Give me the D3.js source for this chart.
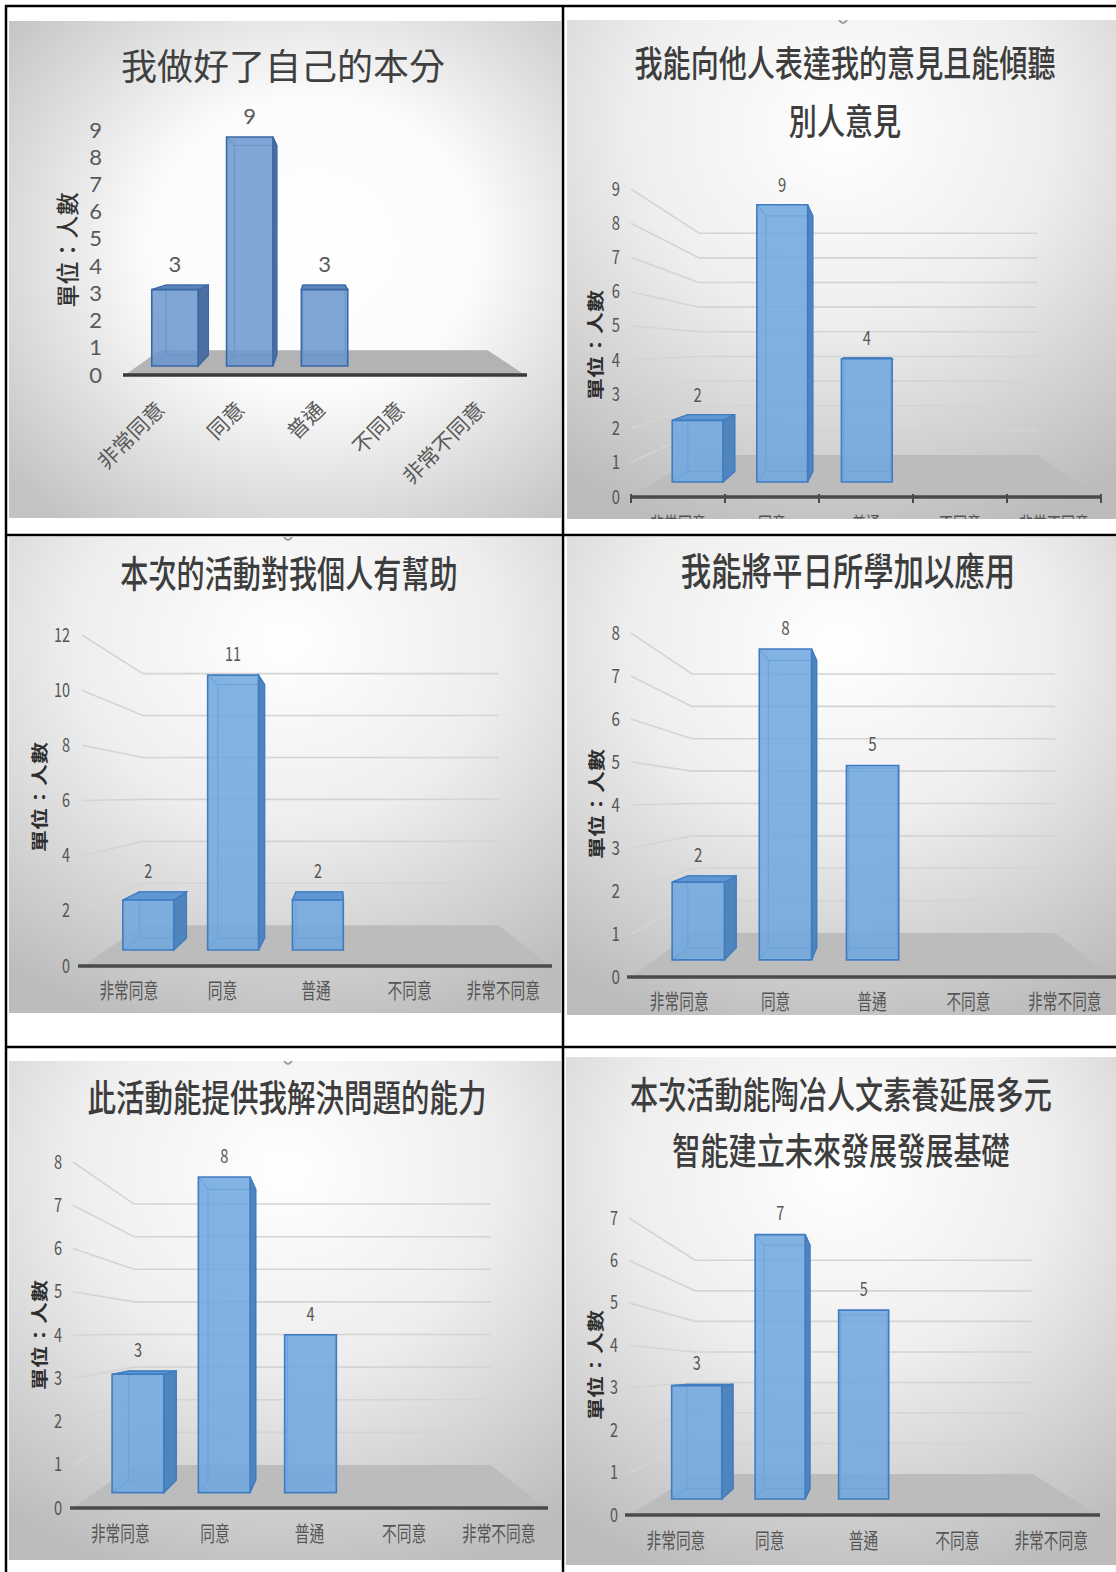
<!DOCTYPE html>
<html><head><meta charset="utf-8">
<script src="https://cdn.jsdelivr.net/npm/d3@7"></script>
<style>
body{margin:0;background:#fff}
svg{display:block}
text{font-family:"Noto Sans CJK TC","Noto Sans CJK SC","Noto Sans",sans-serif}
</style>
</head><body>
<svg id="c" width="1116" height="1572"></svg>
<script>
// ---------------- data ----------------
const categories = ["非常同意","同意","普通","不同意","非常不同意"];
const yAxisTitle = "單位：人數";

const title1 = ["我做好了自己的本分"];
const title2 = ["我能向他人表達我的意見且能傾聽","別人意見"];
const title3 = ["本次的活動對我個人有幫助"];
const title4 = ["我能將平日所學加以應用"];
const title5 = ["此活動能提供我解決問題的能力"];
const title6 = ["本次活動能陶冶人文素養延展多元","智能建立未來發展發展基礎"];

const values1 = [3,9,3,0,0];
const values2 = [2,9,4,0,0];
const values3 = [2,11,2,0,0];
const values4 = [2,8,5,0,0];
const values5 = [3,8,4,0,0];
const values6 = [3,7,5,0,0];

const ticks1 = [0,1,2,3,4,5,6,7,8,9];
const ticks2 = [0,1,2,3,4,5,6,7,8,9];
const ticks3 = [0,2,4,6,8,10,12];
const ticks4 = [0,1,2,3,4,5,6,7,8];
const ticks5 = [0,1,2,3,4,5,6,7,8];
const ticks6 = [0,1,2,3,4,5,6,7];

// ---------------- layout (positions / styles only) ----------------
const layout = [
 {bg:[9,21,552,497], grad:"bgA", titleX:283, titleY:[67], titleSize:36, titleWeight:400, sx:1,
  x0:125,x1:525,y0:375,yTop:130, vx:318,vy:237, sb:.82,s1:.935,s2:.855, barW:.62,
  tickX:102, tickSize:22, tickFont:"Lato", yT:[66,250], yTSize:23, yTWeight:500,
  catY:411, catRot:true, catSize:21, lblSize:22, lblFont:"Lato", lblGap:21, grid:false, axisTicks:false, pal:"A",
  axisX:[123,527], mark:null},
 {bg:[567,20,549,499], grad:"bgB", titleX:845, titleY:[64,122], titleSize:36, titleWeight:500, sx:.78,
  x0:631,x1:1101,y0:497,yTop:189, vx:874,vy:347, sb:.72,s1:.9,s2:.83, barW:.6,
  tickX:620, tickSize:19, tickFont:null, yT:[595,345], yTSize:22, yTWeight:700,
  catY:525, catRot:false, catSize:20, lblSize:19, lblFont:null, lblGap:20, grid:true, axisTicks:true, pal:"B",
  axisX:[631,1101], mark:[843,21]},
 {bg:[9,537,552,476], grad:"bgB", titleX:289, titleY:[575], titleSize:37, titleWeight:500, sx:.76,
  x0:82,x1:550,y0:966,yTop:635, vx:336,vy:796, sb:.76,s1:.906,s2:.835, barW:.6,
  tickX:70, tickSize:19, tickFont:null, yT:[39,797], yTSize:22, yTWeight:700,
  catY:990, catRot:false, catSize:21, lblSize:19, lblFont:null, lblGap:21, grid:true, axisTicks:false, pal:"B",
  axisX:[78,552], mark:[288,538]},
 {bg:[567,537,549,478], grad:"bgB", titleX:848, titleY:[571], titleSize:38, titleWeight:500, sx:.8,
  x0:631,x1:1113,y0:977,yTop:633, vx:878,vy:799, sb:.753,s1:.904,s2:.835, barW:.6,
  tickX:620, tickSize:19, tickFont:null, yT:[595,804], yTSize:22, yTWeight:700,
  catY:1001, catRot:false, catSize:21, lblSize:19, lblFont:null, lblGap:21, grid:true, axisTicks:false, pal:"B",
  axisX:[627,1116], mark:null},
 {bg:[9,1061,552,499], grad:"bgB", titleX:287, titleY:[1099], titleSize:37, titleWeight:500, sx:.77,
  x0:73,x1:546,y0:1508,yTop:1162, vx:321,vy:1333, sb:.754,s1:.912,s2:.84, barW:.6,
  tickX:62, tickSize:19, tickFont:null, yT:[39,1335], yTSize:22, yTWeight:700,
  catY:1533, catRot:false, catSize:21, lblSize:19, lblFont:null, lblGap:21, grid:true, axisTicks:false, pal:"B",
  axisX:[70,548], mark:[288,1062]},
 {bg:[566,1057,550,508], grad:"bgB", titleX:841, titleY:[1096,1152], titleSize:37, titleWeight:500, sx:.76,
  x0:629,x1:1098,y0:1515,yTop:1218, vx:865,vy:1369, sb:.72,s1:.89,s2:.82, barW:.6,
  tickX:618, tickSize:19, tickFont:null, yT:[595,1365], yTSize:22, yTWeight:700,
  catY:1540, catRot:false, catSize:21, lblSize:19, lblFont:null, lblGap:21, grid:true, axisTicks:false, pal:"B",
  axisX:[625,1100], mark:null}
];

const palettes = {
  A:{front:"#6b97cf", side:"#4c6f9f", top:"#5a85bd", stroke:"#3b67a6", edge:"#3f6eae", floor:"#b3b3b3", axis:"#3a3a3a",
     text:"#595959", title:"#404040", ytitle:"#333333"},
  B:{front:"#6fa7de", side:"#4f84bd", top:"#5e97d2", stroke:"#3f7cc2", edge:"#4580c4", floor:"#bcbcbc", axis:"#4a4a4a",
     text:"#555555", title:"#3d3d3d", ytitle:"#2e2e2e"}
};

const charts = [
  {title:title1, values:values1, ticks:ticks1},
  {title:title2, values:values2, ticks:ticks2},
  {title:title3, values:values3, ticks:ticks3},
  {title:title4, values:values4, ticks:ticks4},
  {title:title5, values:values5, ticks:ticks5},
  {title:title6, values:values6, ticks:ticks6}
];

// ---------------- drawing ----------------
const svg = d3.select("#c");
const defs = svg.append("defs");

function addRadial(id, cx, cy, r, stops){
  const gr = defs.append("radialGradient").attr("id",id).attr("cx",cx).attr("cy",cy).attr("r",r);
  stops.forEach(([o,c])=>gr.append("stop").attr("offset",o).attr("stop-color",c));
}
addRadial("bgA","55%","45%","72%",[[0,"#ffffff"],[0.42,"#fbfbfb"],[1,"#c3c3c3"]]);
addRadial("bgB","50%","22%","85%",[[0,"#ffffff"],[0.45,"#eeeeee"],[1,"#bcbcbc"]]);

function ctext(g, x, y, str, size, sx, opt){
  opt = opt || {};
  const rot = opt.rotate ? ` rotate(${opt.rotate})` : "";
  const t = g.append("text")
    .attr("transform", `translate(${x},${y}) scale(${sx},1)${rot}`)
    .attr("text-anchor", opt.anchor || "middle")
    .attr("font-size", size)
    .attr("font-weight", opt.weight || 400)
    .attr("fill", opt.fill || "#555")
    .text(str);
  if(opt.font) t.style("font-family", opt.font);
  return t;
}

function drawPanel(cfg, chart, idx){
  const pal = palettes[cfg.pal];
  const [bx,by,bw,bh] = cfg.bg;
  const clipId = "clip"+idx;
  defs.append("clipPath").attr("id",clipId).append("rect")
    .attr("x",bx).attr("y",by).attr("width",bw).attr("height",bh);
  const g = svg.append("g").attr("clip-path",`url(#${clipId})`);

  g.append("rect").attr("x",bx).attr("y",by).attr("width",bw).attr("height",bh)
    .attr("fill",`url(#${cfg.grad})`);

  if(cfg.mark){
    g.append("path").attr("d",`M${cfg.mark[0]-4},${cfg.mark[1]-1} Q${cfg.mark[0]},${cfg.mark[1]+5} ${cfg.mark[0]+4},${cfg.mark[1]-1}`)
      .attr("fill","none").attr("stroke","#9a9a9a").attr("stroke-width",1.8);
  }

  const maxT = d3.max(chart.ticks);
  const x = d3.scaleBand().domain(categories).range([cfg.x0,cfg.x1]);
  const y = d3.scaleLinear().domain([0,maxT]).range([cfg.y0,cfg.yTop]);
  const P = (px,py,s)=>[cfg.vx+(px-cfg.vx)*s, cfg.vy+(py-cfg.vy)*s];
  const line = d3.line();

  // title
  cfg.titleY.forEach((ty,i)=>{
    ctext(g, cfg.titleX, ty + cfg.titleSize*0.36, chart.title[i], cfg.titleSize, cfg.sx,
          {fill:pal.title, weight:cfg.titleWeight});
  });

  // gridlines (left wall + back wall)
  if(cfg.grid){
    chart.ticks.filter(t=>t>0).forEach(t=>{
      const f=[cfg.x0,y(t)], bl=P(cfg.x0,y(t),cfg.sb), br=P(cfg.x1,y(t),cfg.sb);
      g.append("path").attr("d",line([f,bl,br])).attr("fill","none")
        .attr("stroke","#d4d4d4").attr("stroke-width",1.6);
    });
  }

  // floor
  const floorPts = [[cfg.x0,cfg.y0],[cfg.x1,cfg.y0],P(cfg.x1,cfg.y0,cfg.sb),P(cfg.x0,cfg.y0,cfg.sb)];
  g.append("path").attr("d",line(floorPts)+"Z").attr("fill",pal.floor);

  // bars
  const bwid = x.bandwidth();
  categories.forEach((c,i)=>{
    const v = chart.values[i];
    if(!v) return;
    const xl = x(c) + bwid*(1-cfg.barW)/2, xr = xl + bwid*cfg.barW;
    const yb = y(0), yt = y(v);
    const F = {lb:P(xl,yb,cfg.s1), rb:P(xr,yb,cfg.s1), rt:P(xr,yt,cfg.s1), lt:P(xl,yt,cfg.s1)};
    const B = {lb:P(xl,yb,cfg.s2), rb:P(xr,yb,cfg.s2), rt:P(xr,yt,cfg.s2), lt:P(xl,yt,cfg.s2)};
    const bg = g.append("g");
    bg.append("path").attr("d", line([B.lt,B.rt,B.rb,B.lb])+"Z")
      .attr("fill","none").attr("stroke",pal.edge).attr("stroke-width",1.2).attr("opacity",.8);
    ["lt","rt","rb","lb"].forEach(k=>{
      bg.append("path").attr("d",line([F[k],B[k]])).attr("stroke",pal.edge)
        .attr("stroke-width",1.2).attr("opacity",.8);
    });
    if(xr < cfg.vx){
      bg.append("path").attr("d",line([F.rt,B.rt,B.rb,F.rb])+"Z").attr("fill",pal.side)
        .attr("stroke",pal.stroke).attr("stroke-width",1.3);
    }
    if(xl > cfg.vx){
      bg.append("path").attr("d",line([F.lt,B.lt,B.lb,F.lb])+"Z").attr("fill",pal.side)
        .attr("stroke",pal.stroke).attr("stroke-width",1.3);
    }
    if(yt > cfg.vy){
      bg.append("path").attr("d",line([F.lt,F.rt,B.rt,B.lt])+"Z").attr("fill",pal.top)
        .attr("stroke",pal.stroke).attr("stroke-width",1.3);
    }
    bg.append("path").attr("d",line([F.lt,F.rt,F.rb,F.lb])+"Z").attr("fill",pal.front)
      .attr("fill-opacity",.86).attr("stroke",pal.stroke).attr("stroke-width",1.6);
    const topY = Math.min(F.lt[1], B.lt[1]);
    const cx = (F.lt[0]+F.rt[0])/2;
    ctext(g, cx, topY - cfg.lblGap + cfg.lblSize*0.36, String(v), cfg.lblSize, cfg.sx,
          {fill:pal.text, font:cfg.lblFont});
  });

  // x axis line
  g.append("line").attr("x1",cfg.axisX[0]).attr("x2",cfg.axisX[1]).attr("y1",cfg.y0).attr("y2",cfg.y0)
    .attr("stroke",pal.axis).attr("stroke-width",3.5);
  if(cfg.axisTicks){
    const edges = categories.map(c=>x(c)).concat([cfg.x1]);
    edges.forEach(ex=>{
      g.append("line").attr("x1",ex).attr("x2",ex).attr("y1",cfg.y0-3).attr("y2",cfg.y0+6)
        .attr("stroke",pal.axis).attr("stroke-width",2);
    });
  }

  // y axis labels
  const ax = g.append("g").attr("transform",`translate(${cfg.tickX},0)`)
    .call(d3.axisLeft(y).tickValues(chart.ticks).tickFormat(d3.format("d")).tickSize(0).tickPadding(0));
  ax.select(".domain").remove();
  ax.attr("font-size",cfg.tickSize).style("color",pal.text);
  const tt = ax.selectAll("text").attr("x",0).attr("transform",`scale(${cfg.sx},1)`);
  if(cfg.tickFont) tt.style("font-family", cfg.tickFont);

  // y axis title
  ctext(g, cfg.yT[0], cfg.yT[1], yAxisTitle, cfg.yTSize, cfg.sx,
        {rotate:-90, weight:cfg.yTWeight, fill:pal.ytitle}).attr("dominant-baseline","central");

  // category labels
  categories.forEach(c=>{
    const cx = x(c) + bwid/2;
    if(cfg.catRot){
      g.append("text").attr("transform",`translate(${cx+1},${cfg.catY}) rotate(-45)`)
        .attr("text-anchor","end").attr("font-size",cfg.catSize).attr("fill",pal.text).text(c);
    } else {
      ctext(g, cx, cfg.catY + cfg.catSize*0.36, c, cfg.catSize, 0.7, {fill:pal.text});
    }
  });
}

charts.forEach((ch,i)=>drawPanel(layout[i], ch, i));

// table grid lines
const grid = svg.append("g").attr("stroke","#000").attr("stroke-width",2.5);
grid.append("line").attr("x1",5).attr("x2",1116).attr("y1",6).attr("y2",6);
grid.append("line").attr("x1",5).attr("x2",1116).attr("y1",535).attr("y2",535);
grid.append("line").attr("x1",5).attr("x2",1116).attr("y1",1047).attr("y2",1047);
grid.append("line").attr("x1",6).attr("x2",6).attr("y1",5).attr("y2",1572);
grid.append("line").attr("x1",563).attr("x2",563).attr("y1",5).attr("y2",1572);
</script>
</body></html>
